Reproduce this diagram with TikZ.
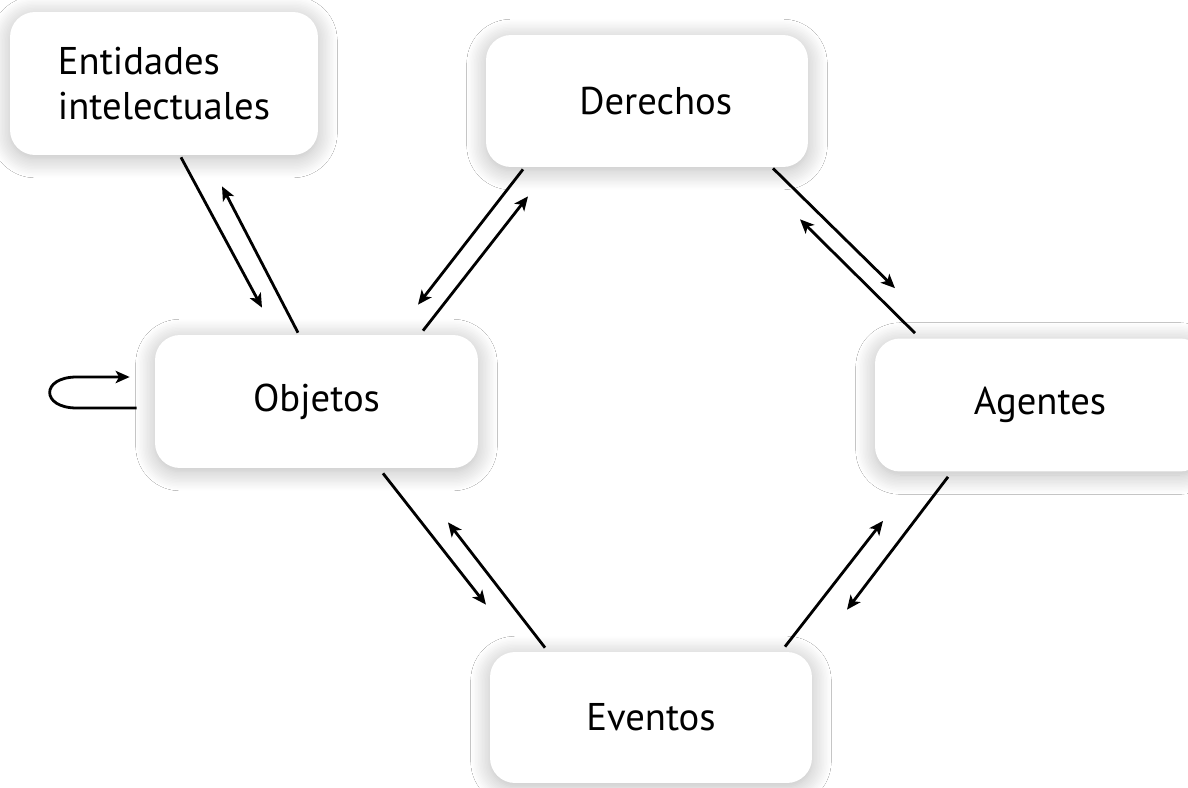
\documentclass[tikz,border=0pt]{standalone}
\usepackage{fontspec}
\setmainfont{PT Sans}
\usetikzlibrary{calc,arrows.meta,shadows.blur}

\begin{document}
\begin{tikzpicture}[x=0.02cm,y=-0.02cm,
		box/.style={fill=white,rounded corners=0.5cm,inner sep=0pt,
			font=\fontsize{22}{25.6}\selectfont,
			blur shadow={shadow xshift=0pt,shadow yshift=-2pt,shadow blur radius=11pt,shadow blur steps=14,shadow opacity=28}},
		rel/.style={line width=1.6pt,-{Stealth[length=8pt,width=7pt,inset=2pt]}}]
		\useasboundingbox[fill=white] (0,0) rectangle (1188,788);
		\node[box,minimum width=6.16cm,minimum height=2.86cm,align=left] (ent) at (164,83.5) {Entidades\\intelectuales};
		\node[box,minimum width=6.44cm,minimum height=2.64cm] (der) at (647,101) {\hspace{0.35cm}Derechos};
		\node[box,minimum width=6.46cm,minimum height=2.66cm] (obj) at (316.5,401.5) {Objetos};
		\node[box,minimum width=6.6cm,minimum height=2.66cm] (age) at (1040,405) {Agentes};
		\node[box,minimum width=6.44cm,minimum height=2.62cm] (eve) at (651,717.5) {Eventos};
		\draw[rel] ($(ent.south)+(17,2)$) -- ($(obj.north)+(-54.5,-27)$);
		\draw[rel] ($(obj.north)+(-18.5,-2)$) -- ($(ent.south)+(58,31)$);
		\draw[rel] ($(der.south)+(-124,2)$) -- ($(obj.north)+(101.5,-30)$);
		\draw[rel] ($(obj.north)+(106.5,-4)$) -- ($(der.south)+(-119,29)$);
		\draw[rel] ($(der.south)+(126,1)$) -- ($(age.north)+(-145,-50)$);
		\draw[rel] ($(age.north)+(-125,-5)$) -- ($(der.south)+(153,52)$);
		\draw[rel] ($(age.south)+(-92,5)$) -- ($(eve.north)+(196,-42)$);
		\draw[rel] ($(eve.north)+(134,-5)$) -- ($(age.south)+(-157,49)$);
		\draw[rel] ($(obj.south)+(66.5,5)$) -- ($(eve.north)+(-165,-47)$);
		\draw[rel] ($(eve.north)+(-106,-4)$) -- ($(obj.south)+(131.5,54)$);
		\draw[rel] ($(obj.west)+(-18,6.5)$) -- ($(obj.west)+(-78,6.5)$)
			.. controls ($(obj.west)+(-114,6.5)$) and ($(obj.west)+(-114,-24.5)$) .. ($(obj.west)+(-78,-24.5)$)
			-- ($(obj.west)+(-25,-24.5)$);
	\end{tikzpicture}
\end{document}
